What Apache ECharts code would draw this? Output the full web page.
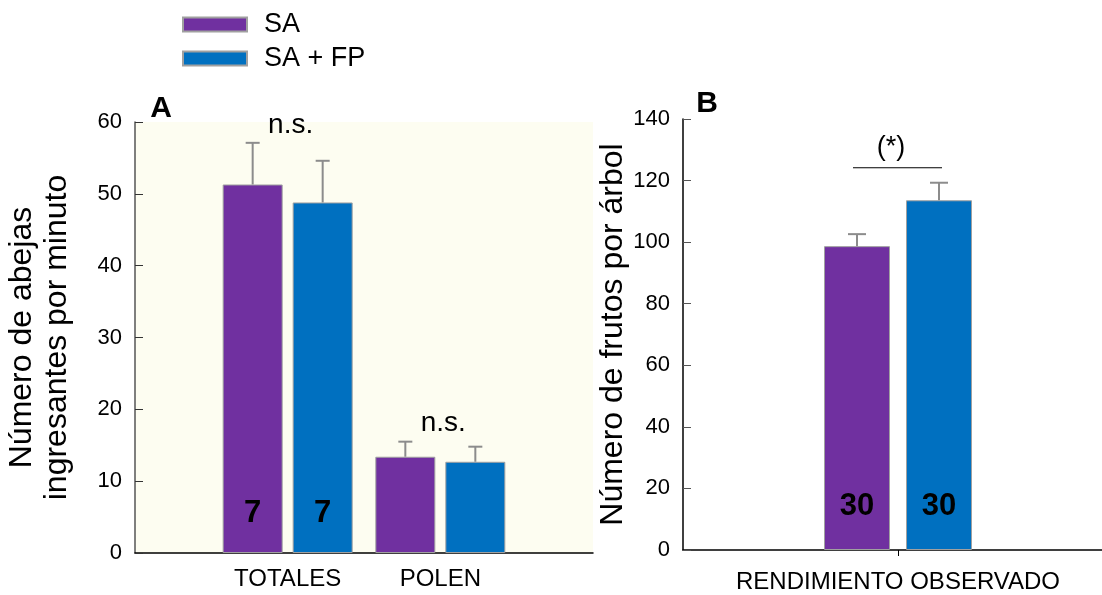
<!DOCTYPE html>
<html><head><meta charset="utf-8">
<script src="https://cdn.jsdelivr.net/npm/echarts@6/dist/echarts.min.js"></script>
<style>html,body{margin:0;padding:0;background:#fff}#c{width:1102px;height:595px}</style>
</head><body><div id="c"></div>
<script>
const FONT = 'Liberation Sans, Arial, Helvetica, sans-serif';
const seriesNames = ['SA', 'SA + FP'];
// Panel A
const categoriesA = ['', 'TOTALES', 'POLEN', ''];
const saA = [null, 51.3, 13.4, null];
const fpA = [null, 48.8, 12.7, null];
const saErrA = [null, 5.8, 2.1, null];
const fpErrA = [null, 5.8, 2.1, null];
const nA = [null, 7, null, null];
const sigA = [null, 'n.s.', 'n.s.', null];
const yAxisA = {min: 0, max: 60, interval: 10};
const yNameA = 'Número de abejas\ningresantes por minuto';
// Panel B
const categoriesB = ['RENDIMIENTO OBSERVADO'];
const saB = [98.7];
const fpB = [113.6];
const saErrB = [3.9];
const fpErrB = [5.7];
const nB = [30];
const sigB = ['(*)'];
const yAxisB = {min: 0, max: 140, interval: 20};
const yNameB = 'Número de frutos por árbol';

const COLORS = ['#7030A0', '#0070C0'];
const ERR = '#8c8c8c';
const barA = {w: 60, gap: 10};
const barB = {w: 66, gap: 16};

function barData(vals, ns) {
  return vals.map((v, i) => v == null ? null : {
    value: v,
    label: ns[i] != null ? {show: true, formatter: String(ns[i])} : {show: false}
  });
}
function errData(means, errs, side) {
  const out = [];
  means.forEach((m, i) => { if (m != null) out.push([i, m, errs[i], side]); });
  return out;
}
function errRender(offset, cap) {
  return function (params, api) {
    const idx = api.value(0), mean = api.value(1), err = api.value(2), side = api.value(3);
    const b = api.coord([idx, mean]);
    const t = api.coord([idx, mean + err]);
    const x = b[0] + side * offset;
    return {type: 'group', children: [
      {type: 'line', shape: {x1: x, y1: b[1], x2: x, y2: t[1]}, style: {stroke: ERR, lineWidth: 2}},
      {type: 'line', shape: {x1: x - cap / 2, y1: t[1], x2: x + cap / 2, y2: t[1]}, style: {stroke: ERR, lineWidth: 2}}
    ]};
  };
}
function sigDataA() {
  const out = [];
  sigA.forEach((s, i) => {
    if (s) out.push([i, Math.max(saA[i] + saErrA[i], fpA[i] + fpErrA[i])]);
  });
  return out;
}
const labelFont = {fontFamily: FONT, fontSize: 31, fontWeight: 'bold', color: '#000'};

const option = {
  animation: false,
  backgroundColor: '#fff',
  textStyle: {fontFamily: FONT},
  legend: {
    data: seriesNames, orient: 'vertical', left: 182, top: 11, padding: 0,
    itemWidth: 64, itemHeight: 14, itemGap: 7, icon: 'rect',
    textStyle: {fontSize: 27, lineHeight: 26, color: '#000', fontFamily: FONT, padding: [0, 0, 0, 12]}
  },
  grid: [
    {left: 135, top: 122, width: 458, height: 431, show: true, backgroundColor: '#fdfdf1', borderWidth: 0, outerBoundsMode: 'none', containLabel: false},
    {left: 683, top: 119, width: 430, height: 431, outerBoundsMode: 'none', containLabel: false}
  ],
  xAxis: [
    {type: 'category', gridIndex: 0, data: categoriesA, boundaryGap: false,
     axisLine: {lineStyle: {color: '#000', width: 1.5}}, axisTick: {show: false},
     axisLabel: {color: '#000', fontSize: 24, margin: 14, fontFamily: FONT}},
    {type: 'category', gridIndex: 1, data: categoriesB, boundaryGap: true,
     axisLine: {lineStyle: {color: '#000', width: 1.5}},
     axisTick: {show: true, alignWithLabel: true, length: 6, lineStyle: {color: '#000'}},
     axisLabel: {color: '#000', fontSize: 24, margin: 20, fontFamily: FONT}}
  ],
  yAxis: [
    {type: 'value', gridIndex: 0, min: yAxisA.min, max: yAxisA.max, interval: yAxisA.interval,
     name: yNameA, nameLocation: 'middle', nameGap: 60,
     nameTextStyle: {fontSize: 32, lineHeight: 35, color: '#000', fontFamily: FONT},
     axisLine: {show: true, lineStyle: {color: '#555', width: 1.5}},
     axisTick: {show: true, inside: true, length: 8, lineStyle: {color: '#333'}},
     splitLine: {show: false},
     axisLabel: {color: '#000', fontSize: 22, margin: 13, fontFamily: FONT}},
    {type: 'value', gridIndex: 1, min: yAxisB.min, max: yAxisB.max, interval: yAxisB.interval,
     name: yNameB, nameLocation: 'middle', nameGap: 54,
     nameTextStyle: {fontSize: 32, color: '#000', fontFamily: FONT},
     axisLine: {show: true, lineStyle: {color: '#000', width: 1.5}},
     axisTick: {show: true, inside: true, length: 8, lineStyle: {color: '#555'}},
     splitLine: {show: false},
     axisLabel: {color: '#000', fontSize: 22, margin: 13, fontFamily: FONT}}
  ],
  series: [
    {name: seriesNames[0], type: 'bar', xAxisIndex: 0, yAxisIndex: 0, data: barData(saA, nA),
     barWidth: barA.w, barGap: (barA.gap / barA.w * 100) + '%',
     itemStyle: {color: COLORS[0], borderColor: '#a0a0a0', borderWidth: 1},
     label: Object.assign({position: 'insideBottom', distance: 24}, labelFont)},
    {name: seriesNames[1], type: 'bar', xAxisIndex: 0, yAxisIndex: 0, data: barData(fpA, nA),
     barWidth: barA.w, barGap: (barA.gap / barA.w * 100) + '%',
     itemStyle: {color: COLORS[1], borderColor: '#a0a0a0', borderWidth: 1},
     label: Object.assign({position: 'insideBottom', distance: 24}, labelFont)},
    {name: seriesNames[0], type: 'bar', xAxisIndex: 1, yAxisIndex: 1, data: barData(saB, nB),
     barWidth: barB.w, barGap: (barB.gap / barB.w * 100) + '%',
     itemStyle: {color: COLORS[0], borderColor: '#a0a0a0', borderWidth: 1},
     label: Object.assign({position: 'insideBottom', distance: 28}, labelFont)},
    {name: seriesNames[1], type: 'bar', xAxisIndex: 1, yAxisIndex: 1, data: barData(fpB, nB),
     barWidth: barB.w, barGap: (barB.gap / barB.w * 100) + '%',
     itemStyle: {color: COLORS[1], borderColor: '#a0a0a0', borderWidth: 1},
     label: Object.assign({position: 'insideBottom', distance: 28}, labelFont)},
    {type: 'custom', xAxisIndex: 0, yAxisIndex: 0, z: 5,
     renderItem: errRender((barA.w + barA.gap) / 2, 14),
     data: errData(saA, saErrA, -1).concat(errData(fpA, fpErrA, 1))},
    {type: 'custom', xAxisIndex: 1, yAxisIndex: 1, z: 5,
     renderItem: errRender((barB.w + barB.gap) / 2, 18),
     data: errData(saB, saErrB, -1).concat(errData(fpB, fpErrB, 1))},
    {type: 'custom', xAxisIndex: 0, yAxisIndex: 0, z: 6,
     renderItem: function (params, api) {
       const idx = api.value(0), top = api.value(1);
       const p = api.coord([idx, top]);
       return {type: 'text', x: p[0] + 3, y: p[1] - 18,
         style: {text: sigA[idx], fontSize: 28, fontFamily: FONT, fill: '#000', align: 'center', verticalAlign: 'middle'}};
     },
     data: sigDataA()},
    {type: 'custom', xAxisIndex: 1, yAxisIndex: 1, z: 6,
     renderItem: function (params, api) {
       const idx = api.value(0), top = api.value(1);
       const p = api.coord([idx, top]);
       const off = (barB.w + barB.gap) / 2;
       const ly = p[1] - 15;
       return {type: 'group', children: [
         {type: 'line', shape: {x1: p[0] - off - 4, y1: ly, x2: p[0] + off + 3, y2: ly}, style: {stroke: '#000', lineWidth: 1.2}},
         {type: 'text', x: p[0] - 7, y: ly - 20,
          style: {text: sigB[idx], fontSize: 27, fontFamily: FONT, fill: '#000', align: 'center', verticalAlign: 'middle'}}
       ]};
     },
     data: sigB.map((s, i) => [i, Math.max(saB[i] + saErrB[i], fpB[i] + fpErrB[i])])}
  ],
  graphic: [
    {type: 'text', x: 161, y: 109, style: {text: 'A', fontSize: 30, fontWeight: 'bold', fontFamily: FONT, fill: '#000', align: 'center', verticalAlign: 'middle'}},
    {type: 'text', x: 707, y: 104, style: {text: 'B', fontSize: 30, fontWeight: 'bold', fontFamily: FONT, fill: '#000', align: 'center', verticalAlign: 'middle'}}
  ]
};
const chart = echarts.init(document.getElementById('c'), null, {renderer: 'canvas'});
chart.setOption(option);
</script>
</body></html>
